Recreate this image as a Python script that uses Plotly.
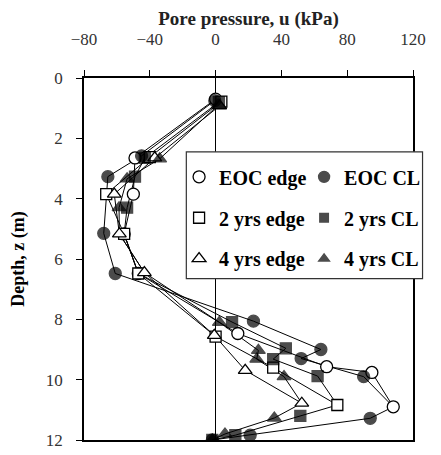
import plotly.graph_objects as go

# ---- data (depth z in m, pore pressure u in kPa) ----
eoc_edge_z = [0.7, 2.65, 3.85, 5.17, 6.48, 8.47, 9.57, 9.76, 10.9]
eoc_edge_u = [0, -49, -50, -55.6, -47, 13.5, 67.5, 95, 108]

eoc_cl_z = [0.75, 2.58, 3.27, 5.15, 6.48, 8.06, 9.0, 9.3, 9.9, 10.9, 11.28, 11.84, 12.0]
eoc_cl_u = [-0.5, -45, -65.5, -68, -61, 23, 64, 52, 90, 108, 94, 21, -2]

y2_edge_z = [0.78, 2.62, 3.85, 5.17, 6.48, 8.57, 9.6, 10.84]
y2_edge_u = [3.5, -40, -66.5, -55.6, -47, 0, 35, 74]

y2_cl_z = [0.8, 2.65, 3.27, 4.3, 5.17, 6.48, 8.09, 8.96, 9.32, 9.88, 10.84, 11.2, 11.84, 12.0]
y2_cl_u = [2, -43, -49, -53.8, -55.6, -47, 10, 42.7, 35, 62, 74, 51.5, 12, -2]

y4_edge_z = [0.92, 2.65, 3.85, 5.17, 6.45, 8.53, 9.69, 10.78]
y4_edge_u = [2.5, -37, -61.6, -58.5, -43.3, -0.8, 18, 52.4]

y4_cl_z = [0.9, 2.68, 3.34, 4.3, 5.17, 6.45, 8.1, 9.03, 9.32, 9.9, 10.78, 11.27, 11.8, 12.0]
y4_cl_u = [1.5, -34, -53.8, -58.7, -58.5, -43.3, 2.3, 26, 25, 41.6, 52.4, 35.7, 5.7, -2]

x_ticks = [-80, -40, 0, 40, 80, 120]
y_ticks = [0, 2, 4, 6, 8, 10, 12]

SERIF = "Liberation Serif"

series = [
    # name, u, z, symbol, filled, legend, rank
    ("EOC edge", eoc_edge_u, eoc_edge_z, "circle", False, "legend", 1),
    ("2 yrs edge", y2_edge_u, y2_edge_z, "square", False, "legend2", 1),
    ("4 yrs edge", y4_edge_u, y4_edge_z, "triangle-up", False, "legend3", 1),
    ("EOC CL", eoc_cl_u, eoc_cl_z, "circle", True, "legend", 2),
    ("4 yrs CL", y4_cl_u, y4_cl_z, "triangle-up", True, "legend3", 2),
    ("2 yrs CL", y2_cl_u, y2_cl_z, "square", True, "legend2", 2),
]
edge_of = {"EOC CL": (eoc_edge_z, eoc_edge_u),
           "2 yrs CL": (y2_edge_z, y2_edge_u),
           "4 yrs CL": (y4_edge_z, y4_edge_u)}

fig = go.Figure()

# connecting lines underneath all markers
for name, u, z, sym, filled, leg, rank in series:
    fig.add_trace(go.Scatter(x=u, y=z, mode="lines", showlegend=False,
                             legendgroup=name, hoverinfo="skip",
                             line=dict(color="black", width=1)))

# markers: open (edge) first, filled (centre line) on top
for name, u, z, sym, filled, leg, rank in series:
    base = 11 if sym == "square" else 12
    if filled:
        ez, eu = edge_of[name]
        shared = set(zip(ez, eu))
        size = [0 if (zz, uu) in shared else base for zz, uu in zip(z, u)]
    else:
        size = base
    fig.add_trace(go.Scatter(
        x=u, y=z, name=name, mode="markers", legendgroup=name,
        marker=dict(symbol=sym, size=size,
                    color="black" if filled else "white",
                    line=dict(color="black", width=1.3)),
        legend=leg, legendrank=rank,
    ))

leg_common = dict(orientation="h", xanchor="left", yanchor="middle",
                  bgcolor="rgba(0,0,0,0)", borderwidth=0,
                  entrywidth=80, entrywidthmode="pixels", itemwidth=30,
                  font=dict(family=SERIF, size=20, color="black", weight="bold"))

fig.update_layout(
    width=441, height=455,
    margin=dict(l=84, r=16, t=78, b=15),
    paper_bgcolor="white", plot_bgcolor="white",
    showlegend=True,
    legend=dict(x=0.289, y=0.727, **leg_common),
    legend2=dict(x=0.289, y=0.614, **leg_common),
    legend3=dict(x=0.289, y=0.501, **leg_common),
    xaxis=dict(
        side="top", range=[-80, 120], tickvals=x_ticks, automargin=False,
        ticks="outside", ticklen=6, tickcolor="black", tickwidth=1,
        ticklabelstandoff=18,
        showline=True, mirror=True, linecolor="black", linewidth=1.5,
        showgrid=False, zeroline=True, zerolinecolor="black", zerolinewidth=1,
        tickfont=dict(family=SERIF, size=17, color="#333"),
        title=dict(text="Pore pressure, u (kPa)", standoff=0,
                   font=dict(family=SERIF, size=19, color="#222", weight="bold")),
    ),
    yaxis=dict(
        range=[12, 0], tickvals=y_ticks, automargin=False,
        ticks="outside", ticklen=6, tickcolor="black", tickwidth=1,
        ticklabelstandoff=10,
        showline=True, mirror=True, linecolor="black", linewidth=1.5,
        showgrid=False, zeroline=False,
        tickfont=dict(family=SERIF, size=17, color="#333"),
        title=dict(text="Depth, z (m)", standoff=17,
                   font=dict(family=SERIF, size=18, color="black", weight="bold")),
    ),
    shapes=[dict(type="rect", xref="paper", yref="paper",
                 x0=0.311, x1=1.029, y0=0.446, y1=0.796,
                 fillcolor="white", line=dict(color="#333", width=1.2),
                 layer="above")],
)

fig.write_html("out.html", config={"displayModeBar": False},
               post_script="document.body.style.margin='0px';")
